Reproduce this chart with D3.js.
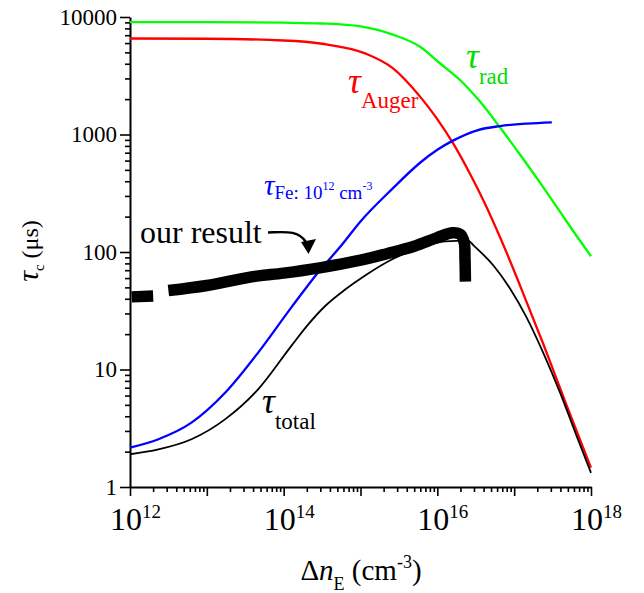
<!DOCTYPE html>
<html>
<head>
<meta charset="utf-8">
<script src="https://cdn.jsdelivr.net/npm/d3@7"></script>
<style>
  body { margin: 0; background: #fff; }
  svg { display: block; }
  text { font-family: "Liberation Serif", "Times New Roman", serif; }
</style>
</head>
<body>
<svg id="chart"></svg>
<script>
// tau_rad (green)
const radN = [1e12, 1e13, 1e14, 3.16e14, 1e15, 2.63e15, 5.96e15, 1.08e16, 1.97e16, 3.59e16, 6.55e16, 1.19e17, 2.17e17, 3.24e17, 5.62e17, 1e18];
const radTau = [9060, 9060, 8950, 8800, 8320, 7080, 5580, 4040, 2910, 1905, 1148, 676, 389, 266, 157, 92];

// tau_Auger (red)
const augerN = [1e12, 1e13, 1e14, 3.16e14, 1.15e15, 2.63e15, 5.96e15, 9.77e15, 1.62e16, 2.69e16, 3.98e16, 6.92e16, 1.2e17, 2.4e17, 4.79e17, 1e18];
const augerTau = [6560, 6530, 6310, 5920, 4900, 3670, 2100, 1380, 832, 457, 275, 123, 51.3, 16.4, 5.0, 1.46];

// tau_Fe (blue)
const feN = [1e12, 2.34e12, 6.31e12, 1.74e13, 4.68e13, 1.26e14, 2.82e14, 5.62e14, 1e15, 2.63e15, 5.96e15, 1e16, 1.62e16, 3.31e16, 6.55e16, 1.48e17, 3.09e17];
const feTau = [2.16, 2.55, 3.53, 6.37, 14.0, 33.8, 67.3, 113.5, 182, 348, 575, 741, 891, 1086, 1180, 1240, 1270];

// tau_total (black)
const totalN = [1e12, 2.34e12, 6.31e12, 1.74e13, 4.68e13, 1.26e14, 2.0e14, 3.47e14, 6.31e14, 1.15e15, 2.63e15, 6.31e15, 1.26e16, 2.51e16, 2.95e16, 5.37e16, 8.91e16, 1.45e17, 2.4e17, 3.98e17, 6.46e17, 1e18];
const totalTau = [1.9, 2.09, 2.55, 3.78, 6.81, 15.9, 23.4, 34.7, 47.9, 63.1, 87.1, 110, 123, 125, 114, 76.7, 48.5, 27.8, 13.8, 6.3, 2.75, 1.32];

// measured lifetime ("our result"), two pieces
const ourN1 = [1.05e12, 2.0e12];
const ourTau1 = [41.5, 42.2];
const ourN2 = [3.16e12, 1e13, 3.98e13, 1e14, 2.95e14, 1e15, 2.19e15, 5.0e15, 9.77e15, 1.58e16, 2.0e16, 2.24e16, 2.29e16, 2.32e16];
const ourTau2 = [47.0, 51.9, 61.7, 66.1, 73.3, 85.1, 96.6, 112, 132, 146, 141, 120, 89, 56];

const yTicks = [1, 10, 100, 1000, 10000];
const xMajor = [1e12, 1e13, 1e14, 1e15, 1e16, 1e17, 1e18];
const xLabelExp = [12, 14, 16, 18];

const width = 644;
const height = 593;

const svg = d3.select("#chart")
  .attr("width", width)
  .attr("height", height);

const x = d3.scaleLog().domain([1e12, 1e18]).range([130, 591]);
const y = d3.scaleLog().domain([1, 1e4]).range([487, 17]);

const zip = (a, b) => a.map((v, i) => [v, b[i]]);
const minorOf = decades => decades.slice(0, -1).flatMap(d => d3.range(2, 10).map(m => d * m));

// axes
const yMinor = svg.append("g")
  .attr("transform", "translate(130,0)")
  .call(d3.axisLeft(y).tickValues(minorOf(yTicks)).tickSize(5).tickFormat(""));
yMinor.select(".domain").remove();

const yAxis = svg.append("g")
  .attr("transform", "translate(130,0)")
  .call(d3.axisLeft(y).tickValues(yTicks).tickSize(10).tickSizeOuter(0).tickPadding(3).tickFormat(d3.format("d")));
yAxis.selectAll("text")
  .attr("font-family", "Liberation Serif, Times New Roman, serif")
  .attr("font-size", 23)
  .attr("fill", "#000");

const xMinor = svg.append("g")
  .attr("transform", "translate(0,487)")
  .call(d3.axisBottom(x).tickValues(minorOf(xMajor)).tickSize(5).tickFormat(""));
xMinor.select(".domain").remove();

svg.append("g")
  .attr("transform", "translate(0,487)")
  .call(d3.axisBottom(x).tickValues(xMajor).tickSize(9).tickSizeOuter(0).tickFormat(""));

svg.selectAll(".tick line").attr("stroke", "#000").attr("stroke-width", 1.6);
svg.selectAll(".domain").attr("stroke", "#000").attr("stroke-width", 2);

const xLab = svg.selectAll("text.xlab")
  .data(xLabelExp)
  .join("text")
  .attr("class", "xlab")
  .attr("x", d => x(Math.pow(10, d)) - 20)
  .attr("y", 530)
  .attr("font-size", 32);
xLab.append("tspan").text("10");
xLab.append("tspan").attr("dy", -12).attr("font-size", 19).text(d => d);

// curves
const line = d3.line()
  .x(d => x(d[0]))
  .y(d => y(d[1]))
  .curve(d3.curveMonotoneX);

const thick = d3.line()
  .x(d => x(d[0]))
  .y(d => y(d[1]))
  .curve(d3.curveCatmullRom.alpha(0.5));

svg.append("path")
  .attr("d", line(zip(radN, radTau)))
  .attr("fill", "none").attr("stroke", "#00ff00").attr("stroke-width", 2.3);

svg.append("path")
  .attr("d", line(zip(augerN, augerTau)))
  .attr("fill", "none").attr("stroke", "#ff0000").attr("stroke-width", 2.3);

svg.append("path")
  .attr("d", line(zip(feN, feTau)))
  .attr("fill", "none").attr("stroke", "#0000ff").attr("stroke-width", 2.3);

svg.append("path")
  .attr("d", line(zip(totalN, totalTau)))
  .attr("fill", "none").attr("stroke", "#000").attr("stroke-width", 1.8);

[[ourN1, ourTau1], [ourN2, ourTau2]].forEach(([n, t]) => {
  svg.append("path")
    .attr("d", thick(zip(n, t)))
    .attr("fill", "none")
    .attr("stroke", "#000")
    .attr("stroke-width", 11.5)
    .attr("stroke-linejoin", "round")
    .attr("stroke-linecap", "butt");
});

// curve labels
function tauLabel(xp, yp, sub, color, size, subSize, subDy) {
  const t = svg.append("text").attr("x", xp).attr("y", yp).attr("fill", color);
  t.append("tspan").attr("font-style", "italic").attr("font-size", size).text("τ");
  t.append("tspan").attr("font-size", subSize).attr("dy", subDy).text(sub);
  return t;
}

tauLabel(348, 93, "Auger", "#ff0000", 36, 23, 15);
tauLabel(466, 68, "rad", "#00dd00", 36, 23, 16);
tauLabel(262, 413, "total", "#000", 36, 23, 16);

const fe = svg.append("text").attr("x", 264).attr("y", 195).attr("fill", "#0000ff");
fe.append("tspan").attr("font-style", "italic").attr("font-size", 29).text("τ");
fe.append("tspan").attr("font-size", 19).attr("dy", 4).text("Fe: 10");
fe.append("tspan").attr("font-size", 12).attr("dy", -9).text("12");
fe.append("tspan").attr("font-size", 19).attr("dy", 9).text(" cm");
fe.append("tspan").attr("font-size", 12).attr("dy", -9).text("-3");

// "our result" with arrow
svg.append("text")
  .attr("x", 140).attr("y", 243)
  .attr("font-size", 32)
  .text("our result");

svg.append("path")
  .attr("d", "M268,232.5 C285,232 298,230 306,242")
  .attr("fill", "none").attr("stroke", "#000").attr("stroke-width", 2.4);
svg.append("path")
  .attr("d", "M301,242 L316,239 L308.5,254 Z")
  .attr("fill", "#000");

// axis titles
const xt = svg.append("text")
  .attr("x", 361).attr("y", 580)
  .attr("text-anchor", "middle")
  .attr("font-size", 29);
xt.append("tspan").text("Δ");
xt.append("tspan").attr("font-style", "italic").text("n");
xt.append("tspan").attr("font-size", 18).attr("dy", 10).text("E");
xt.append("tspan").attr("dy", -10).text(" (cm");
xt.append("tspan").attr("font-size", 18).attr("dy", -12).text("-3");
xt.append("tspan").attr("dy", 12).text(")");

const yt = svg.append("text")
  .attr("transform", "translate(38,251) rotate(-90)")
  .attr("text-anchor", "middle")
  .attr("font-size", 24);
yt.append("tspan").attr("font-style", "italic").attr("font-size", 30).text("τ");
yt.append("tspan").attr("font-size", 15).attr("dy", 6).text("c");
yt.append("tspan").attr("dy", -6).text(" (μs)");
</script>
</body>
</html>
